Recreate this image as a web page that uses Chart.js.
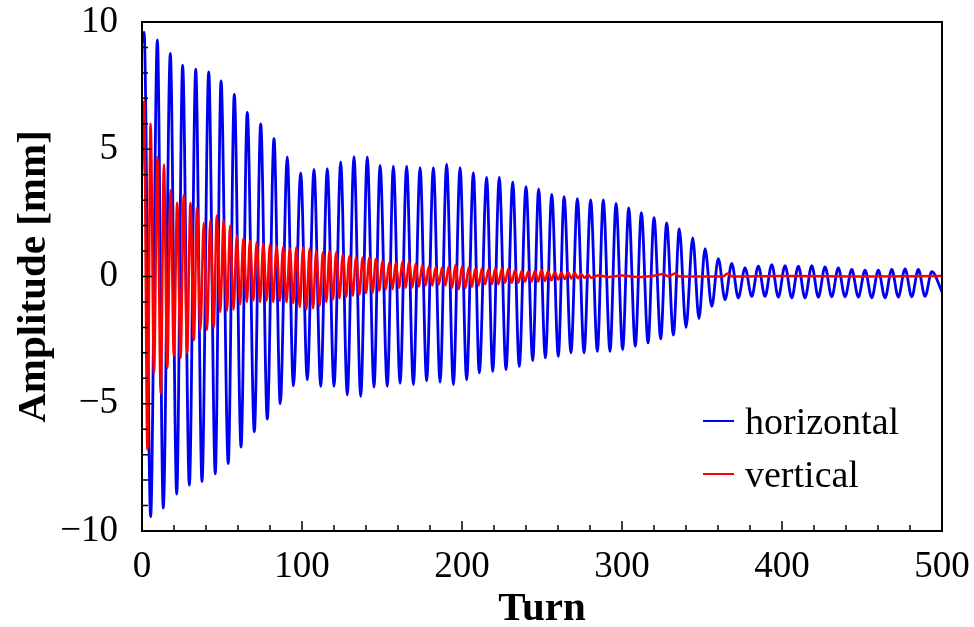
<!DOCTYPE html>
<html>
<head>
<meta charset="utf-8">
<title>Amplitude vs Turn</title>
<script src="https://cdn.jsdelivr.net/npm/chart.js@4.4.1/dist/chart.umd.min.js"></script>
<style>
    html, body { margin: 0; padding: 0; background: #fff; }
    #wrap { position: relative; width: 974px; height: 627px; }
    #legend {
        position: absolute; left: 703px; top: 394px;
        font-family: "Liberation Serif", "DejaVu Serif", serif;
        font-size: 38px; color: #000;
    }
    .legend-item { display: flex; align-items: center; height: 53px; }
    .legend-line { width: 31px; height: 2px; margin-right: 11px; }
</style>
</head>
<body>
<div id="wrap">
    <canvas id="ampChart" width="974" height="627"></canvas>
    <div id="legend"></div>
</div>
<script>
// Tick labels
const turnTicks = [0, 100, 200, 300, 400, 500];
const ampTicks = [-10, -5, 0, 5, 10];

// horizontal: turn of each crest / trough and its amplitude [mm]
const blueTurns = [
    0, 1.3, 5.4, 9.6, 13.3, 17.7, 21.7, 25.4, 29.6, 33.6, 37.5,
    41.7, 45.8, 49.4, 53.9, 57.7, 61.9, 65.8, 70.2, 74.2, 78.3,
    82.5, 86.4, 90.8, 94.6, 99.2, 103.3, 107.5, 111.7, 115.8, 120,
    124.2, 128.3, 132.5, 136.7, 140.8, 145, 148.8, 153.3, 157.1, 161.3,
    165.4, 169.6, 173.8, 177.9, 182.1, 186.3, 190.4, 194.6, 198.8, 202.9,
    207.1, 210.8, 215.4, 219.2, 223.3, 227.5, 231.7, 235.8, 240, 244.2,
    247.9, 252.1, 256.1, 260.2, 263.8, 268.1, 272.1, 276.3, 280.4, 284.6,
    288.3, 292.5, 296.3, 300.4, 304.2, 308.3, 312.1, 316.3, 320, 324.2,
    327.9, 332.1, 335.8, 340, 344.2, 348.1, 351.9, 356.1, 360.2, 364.4,
    368.6, 372.7, 376.9, 381.1, 385.2, 389.4, 393.6, 397.7, 401.9, 406.1,
    410.2, 414.4, 418.6, 422.7, 426.9, 431.1, 435.2, 439.4, 443.6, 447.7,
    451.9, 456.1, 460.2, 464.4, 468.6, 472.7, 476.9, 481.1, 485.2, 489.4,
    493.6, 500
];
const blueAmp = [
    9.2, 9.6, -9.44, 9.3, -9.1, 8.77, -8.55, 8.3, -8.2, 8.15, -8.06,
    8.04, -7.75, 7.69, -7.35, 7.16, -6.7, 6.45, -6.1, 6.0, -5.6,
    5.42, -5.0, 4.7, -4.3, 4.07, -4.06, 4.21, -4.32, 4.24, -4.32,
    4.5, -4.65, 4.71, -4.71, 4.7, -4.35, 4.37, -4.32, 4.34, -4.2,
    4.34, -4.25, 4.28, -4.1, 4.28, -4.15, 4.41, -4.25, 4.28, -4.06,
    4.08, -3.79, 3.89, -3.73, 3.89, -3.66, 3.71, -3.53, 3.53, -3.3,
    3.43, -3.2, 3.23, -3.14, 3.14, -3.0, 3.06, -3.0, 3.01, -2.94,
    3.01, -2.94, 2.87, -2.87, 2.7, -2.74, 2.51, -2.61, 2.31, -2.45,
    2.11, -2.3, 1.87, -2.0, 1.52, -1.65, 1.09, -1.17, 0.70, -0.91,
    0.51, -0.84, 0.34, -0.78, 0.41, -0.78, 0.47, -0.81, 0.43, -0.84,
    0.41, -0.84, 0.43, -0.81, 0.38, -0.8, 0.34, -0.8, 0.28, -0.81,
    0.25, -0.84, 0.25, -0.84, 0.28, -0.81, 0.30, -0.8, 0.28, -0.78,
    0.19, -0.6
];

// vertical: turn of each crest / trough and its amplitude [mm]
const redTurns = [
    0, 1.3, 3.4, 5.4, 7.5, 9.6, 11.7, 13.7, 15.8, 17.9, 19.9,
    22.0, 24.1, 26.1, 28.2, 30.3, 32.4, 34.4, 36.5, 38.6, 40.6,
    42.7, 44.8, 46.8, 48.9, 51.0, 53.1, 55.1, 57.2, 59.3, 61.3,
    63.4, 65.5, 67.5, 69.6, 71.7, 73.8, 75.8, 77.9, 80.0, 82.0,
    84.1, 86.2, 88.2, 90.3, 92.4, 94.5, 96.5, 98.6, 100.7, 102.7,
    104.8, 106.9, 108.9, 111.0, 113.1, 115.2, 117.2, 119.3, 121.4, 123.4,
    125.5, 127.6, 129.6, 131.7, 133.8, 135.9, 137.9, 140.0, 142.1, 144.1,
    146.2, 148.3, 150.3, 152.4, 154.5, 156.6, 158.6, 160.7, 162.8, 164.8,
    166.9, 169.0, 171.0, 173.1, 175.2, 177.3, 179.3, 181.4, 183.5, 185.5,
    187.6, 189.7, 191.7, 193.8, 195.9, 198.0, 200.0, 202.1, 204.2, 206.2,
    208.3, 210.4, 212.4, 214.5, 216.6, 218.7, 220.7, 222.8, 224.9, 226.9,
    229.0, 231.1, 233.1, 235.2, 237.3, 239.4, 241.4, 243.5, 245.6, 247.6,
    249.7, 251.8, 253.8, 255.9, 258.0, 260.1, 262.1, 264.2, 266.3, 268.3,
    270.4, 272.5, 274.5, 276.6, 278.7, 280.8,
    285, 292, 300, 310, 320, 326, 329, 333, 336, 363, 366, 369, 400, 450, 500
];
const redAmp = [
    4.0, 6.9, -6.8, 6.0, -3.8, 4.7, -4.6, 4.4, -3.6, 3.4, -3.1,
    2.9, -3.2, 3.2, -3.0, 2.9, -2.5, 2.7, -2.1, 2.1, -2.1,
    2.2, -2.0, 2.4, -1.4, 2.2, -1.35, 2.0, -1.3, 1.6, -1.1,
    1.5, -1.0, 1.4, -0.95, 1.35, -1.0, 1.3, -0.95, 1.25, -1.0,
    1.2, -0.95, 1.15, -1.0, 1.1, -1.05, 1.15, -1.2, 1.15, -1.3,
    1.1, -1.25, 1.0, -1.15, 0.95, -1.0, 1.0, -0.9, 0.95, -0.85,
    0.85, -0.8, 0.8, -0.75, 0.75, -0.7, 0.75, -0.65, 0.75, -0.64,
    0.7, -0.55, 0.6, -0.5, 0.55, -0.5, 0.55, -0.45, 0.6, -0.45,
    0.6, -0.43, 0.5, -0.4, 0.45, -0.35, 0.4, -0.35, 0.35, -0.31,
    0.35, -0.35, 0.4, -0.45, 0.45, -0.5, 0.4, -0.45, 0.35, -0.4,
    0.3, -0.35, 0.3, -0.3, 0.28, -0.3, 0.3, -0.3, 0.3, -0.25,
    0.3, -0.25, 0.25, -0.25, 0.22, -0.2, 0.2, -0.2, 0.22, -0.2,
    0.25, -0.18, 0.22, -0.15, 0.18, -0.12, 0.15, -0.1, 0.17, -0.08,
    0.15, -0.07, 0.1, -0.05, 0.08, -0.05,
    0.04, -0.02, 0.04, -0.02, 0.03, 0.1, 0, 0.12, 0, 0, 0.12, 0, 0.02, 0, 0.02
];

const FONT = '"Liberation Serif", "DejaVu Serif", serif';

// Kutu çerçevesi ve içe bakan tik çizgileri
const frameTicks = {
    id: 'frameTicks',
    afterDatasetsDraw(chart) {
        const { ctx, chartArea: a, scales: { x, y } } = chart;
        ctx.save();
        ctx.strokeStyle = '#000';
        ctx.lineWidth = 1.5;
        ctx.beginPath();
        for (let t = 0; t <= 500; t += 20) {
            const px = x.getPixelForValue(t);
            const len = turnTicks.includes(t) ? 10 : 6;
            ctx.moveTo(px, a.bottom);
            ctx.lineTo(px, a.bottom - len);
        }
        for (let v = -10; v <= 10; v += 1) {
            const py = y.getPixelForValue(v);
            const len = ampTicks.includes(v) ? 10 : 6;
            ctx.moveTo(a.left, py);
            ctx.lineTo(a.left + len, py);
        }
        ctx.stroke();
        ctx.lineWidth = 2;
        ctx.strokeRect(a.left, a.top, a.right - a.left, a.bottom - a.top);
        ctx.restore();
    }
};

const AmpChart = {
    init() {
        const chart = this.draw();
        this.buildLegend(chart);
    },

    toPoints(turns, amps) {
        return turns.map((t, i) => ({ x: t, y: amps[i] }));
    },

    draw() {
        const ctx = document.getElementById('ampChart').getContext('2d');
        return new Chart(ctx, {
            type: 'line',
            data: {
                datasets: [{
                    label: 'horizontal',
                    data: this.toPoints(blueTurns, blueAmp),
                    borderColor: 'rgb(0, 0, 240)',
                    borderWidth: 2.8,
                    pointRadius: 0,
                    cubicInterpolationMode: 'monotone',
                    order: 1
                }, {
                    label: 'vertical',
                    data: this.toPoints(redTurns, redAmp),
                    borderColor: 'rgb(255, 0, 0)',
                    borderWidth: 2.5,
                    pointRadius: 0,
                    cubicInterpolationMode: 'monotone',
                    order: 0
                }]
            },
            options: {
                responsive: false,
                animation: false,
                devicePixelRatio: 1,
                layout: { padding: { top: 22, right: 32, left: 0, bottom: 0 } },
                plugins: { legend: { display: false }, tooltip: { enabled: false } },
                scales: {
                    x: {
                        type: 'linear', min: 0, max: 500,
                        grid: { display: false, drawTicks: false },
                        border: { display: false },
                        afterBuildTicks: s => { s.ticks = turnTicks.map(v => ({ value: v })); },
                        ticks: { color: '#000', padding: 14, maxRotation: 0, font: { family: FONT, size: 37 } },
                        title: {
                            display: true, text: 'Turn', color: '#000',
                            font: { family: FONT, size: 41, weight: 'bold', lineHeight: 1 },
                            padding: { top: 0, bottom: -3 }
                        },
                        // alan sınırlarını sabitle
                        afterFit: s => { s.height = 96; s.paddingLeft = 0; s.paddingRight = 0; }
                    },
                    y: {
                        min: -10, max: 10,
                        grid: { display: false, drawTicks: false },
                        border: { display: false },
                        afterBuildTicks: s => { s.ticks = ampTicks.map(v => ({ value: v })); },
                        ticks: {
                            color: '#000', padding: 24, font: { family: FONT, size: 37 },
                            callback: v => String(v).replace('-', '\u2212')
                        },
                        title: {
                            display: true, text: 'Amplitude [mm]', color: '#000',
                            font: { family: FONT, size: 41, weight: 'bold', lineHeight: 1 },
                            padding: { top: 14, bottom: 0 }
                        },
                        afterFit: s => { s.width = 142; s.paddingTop = 0; s.paddingBottom = 0; }
                    }
                }
            },
            plugins: [frameTicks]
        });
    },

    // HTML lejant
    buildLegend(chart) {
        const box = document.getElementById('legend');
        chart.data.datasets.forEach(ds => {
            const item = document.createElement('div');
            item.className = 'legend-item';
            item.innerHTML = `<span class="legend-line" style="background:${ds.borderColor}"></span><span>${ds.label}</span>`;
            box.appendChild(item);
        });
    }
};

document.addEventListener('DOMContentLoaded', () => AmpChart.init());
</script>
</body>
</html>
